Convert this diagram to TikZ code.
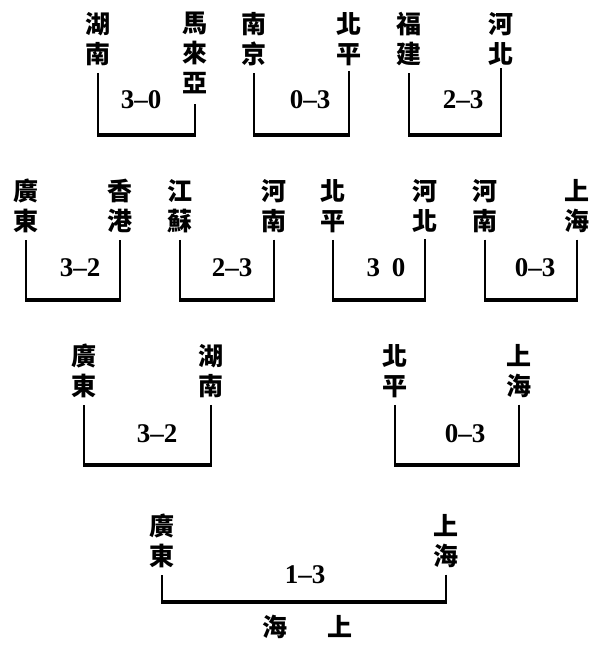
\documentclass[tikz,border=0pt]{standalone}
\usepackage{fontspec}
\newfontfamily\cjk{Noto Sans CJK TC}
\newfontfamily\digf{Liberation Serif}
\begin{document}
\begin{tikzpicture}[x=1pt,y=-1pt,
  team/.style={anchor=north,inner sep=0pt,align=center,
    font=\cjk\bfseries\fontsize{25}{30}\selectfont},
  score/.style={inner sep=0pt,font=\digf\bfseries\fontsize{27}{30}\selectfont},
  vl/.style={line width=1.8pt},
  hl/.style={line width=3.2pt}]
\useasboundingbox (0,0) rectangle (594,648);
% row coordinates
\coordinate (r1) at (0,135);
\coordinate (r2) at (0,300);
\coordinate (r3) at (0,465);
\coordinate (r4) at (0,602);
% ---------- round 1 ----------
\node[team] (a1) at (98,12) {湖\\南};
\node[team] (b1) at (195,12) {馬\\來\\亞};
\node[score] (s1) at (141,100) {3–0};
\node[team] (a2) at (254,12) {南\\京};
\node[team] (b2) at (349,12) {北\\平};
\node[score] (s2) at (310,100) {0–3};
\node[team] (a3) at (409,12) {福\\建};
\node[team] (b3) at (501,12) {河\\北};
\node[score] (s3) at (463,100) {2–3};
% ---------- round 2 ----------
\node[team] (c1) at (26,179) {廣\\東};
\node[team] (d1) at (120,179) {香\\港};
\node[score] (t1) at (80,268) {3–2};
\node[team] (c2) at (180,179) {江\\蘇};
\node[team] (d2) at (274,179) {河\\南};
\node[score] (t2) at (232,268) {2–3};
\node[team] (c3) at (333,179) {北\\平};
\node[team] (d3) at (425,179) {河\\北};
\node[score] (t3) at (386,268) {3\hspace{12pt}0};
\node[team] (c4) at (485,179) {河\\南};
\node[team] (d4) at (577,179) {上\\海};
\node[score] (t4) at (535,268) {0–3};
% ---------- round 3 ----------
\node[team] (e1) at (84,344) {廣\\東};
\node[team] (f1) at (211,344) {湖\\南};
\node[score] (u1) at (157,434) {3–2};
\node[team] (e2) at (395,344) {北\\平};
\node[team] (f2) at (519,344) {上\\海};
\node[score] (u2) at (465,434) {0–3};
% ---------- final ----------
\node[team] (g1) at (162,514) {廣\\東};
\node[team] (h1) at (446,514) {上\\海};
\node[score] (v1) at (305,575) {1–3};
\node[team,anchor=center] (w) at (307,627) {海\hspace{40pt}上};
% ---------- brackets ----------
\foreach \l/\r/\row/\gl/\gr in {a1/b1/r1/7/10, a2/b2/r1/7/5, a3/b3/r1/7/3,
    c1/d1/r2/7/7, c2/d2/r2/7/7, c3/d3/r2/7/7, c4/d4/r2/7/7,
    e1/f1/r3/7/7, e2/f2/r3/7/7, g1/h1/r4/7/7}{
  \draw[vl] ([yshift=-\gl pt]\l.south) -- (\l.south |- \row);
  \draw[vl] ([yshift=-\gr pt]\r.south) -- (\r.south |- \row);
  \draw[hl] ([xshift=-0.9pt]\l.south |- \row) -- ([xshift=0.9pt]\r.south |- \row);
}
\end{tikzpicture}
\end{document}
